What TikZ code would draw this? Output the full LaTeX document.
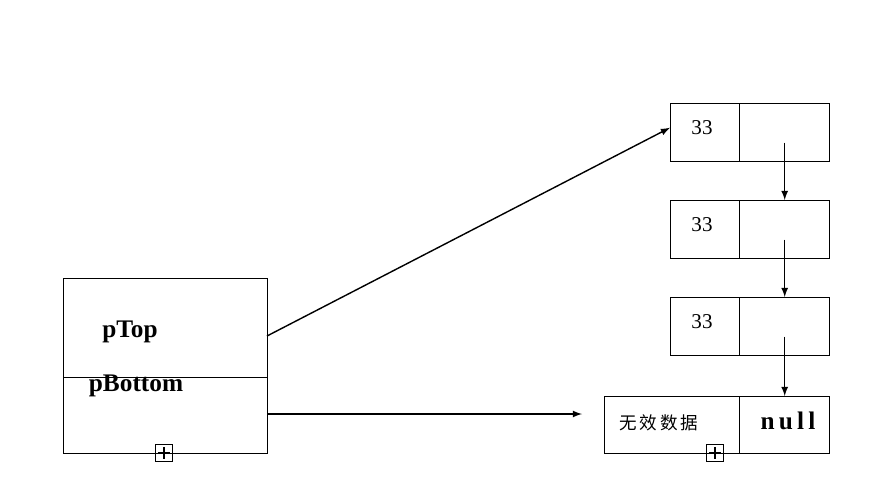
\documentclass[tikz,border=0pt]{standalone}
\usepackage{fontspec}
\setmainfont{Liberation Serif}
\newfontfamily\cjk{Noto Sans CJK SC}
\usetikzlibrary{arrows,calc}

\begin{document}
\begin{tikzpicture}[>=latex,line width=0.8pt,x=0.02cm,y=-0.02cm,
  cell/.style={draw,inner sep=0pt,anchor=north west},
  plus/.style={draw,inner sep=0pt,minimum size=0.34cm,line width=0.6pt}]

\useasboundingbox (0,0) rectangle (876,498);

% stack head
\node[cell,minimum width=4.08cm,minimum height=1.98cm] (top) at (63,278) {};
\node[cell,minimum width=4.08cm,minimum height=1.52cm] (bottom) at (63,377) {};
\node[font=\bfseries\Large] at (130,332) {pTop};
\node[font=\bfseries\Large] at (136,386) {pBottom};
\node[plus] (p1) at (164,453) {};
\draw[line width=0.6pt] ($(p1.west)+(3,0)$) -- ($(p1.east)-(3,0)$) ($(p1.north)+(0,3)$) -- ($(p1.south)-(0,3)$);

% list nodes
\foreach \i/\y in {1/103,2/200,3/297}{
  \node[cell,minimum width=1.38cm,minimum height=1.16cm] (d\i) at (670,\y) {};
  \node[cell,minimum width=1.80cm,minimum height=1.16cm] (n\i) at (739,\y) {};
  \node[font=\large] at (702,\y+25) {33};
  \coordinate (s\i) at ($(n\i.center)+(0,10)$);
}
\node[cell,minimum width=2.70cm,minimum height=1.14cm] (d4) at (604,396) {};
\node[cell,minimum width=1.80cm,minimum height=1.14cm] (n4) at (739,396) {};
\node[font=\cjk] at (659,423) {无\,效\,数\,据};
\node[font=\bfseries\Large] at (788,421) {n\,u\,l\,l};
\node[plus] (p2) at (715,453) {};
\draw[line width=0.6pt] ($(p2.west)+(3,0)$) -- ($(p2.east)-(3,0)$) ($(p2.north)+(0,3)$) -- ($(p2.south)-(0,3)$);

% links
\draw[->] (s1) -- (n2.north);
\draw[->] (s2) -- (n3.north);
\draw[->] (s3) -- (n4.north);
\coordinate (e1) at (267,336);
\coordinate (e2) at (267,414);
\draw[->] (e1) -- ($(d1.west)+(0,-5)$);
\draw[->] (e2) -- (582,414);
\end{tikzpicture}
\end{document}
